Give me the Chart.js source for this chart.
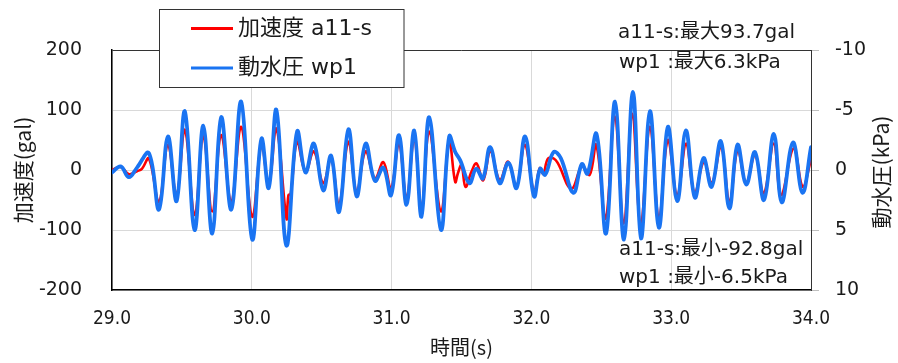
<!DOCTYPE html>
<html>
<head>
<meta charset="utf-8">
<script src="https://cdn.jsdelivr.net/npm/chart.js@4.4.1/dist/chart.umd.min.js"></script>
<style>
  body { margin: 0; background: #fff; }
  #wrap { width: 898px; height: 363px; }
</style>
</head>
<body>
<div id="wrap"><canvas id="waveChart" width="898" height="363"></canvas></div>
<script>
// 加速度 a11-s (gal) : 山・谷を読み取った値
const accelTime = [29.00, 29.062, 29.121, 29.179, 29.214, 29.264, 29.336, 29.400, 29.462, 29.521,
  29.591, 29.653, 29.717, 29.781, 29.853, 29.924, 30.003, 30.069, 30.121, 30.176,
  30.248, 30.262, 30.278, 30.324, 30.384, 30.444, 30.511, 30.567, 30.624, 30.691,
  30.750, 30.814, 30.881, 30.941, 30.996, 31.053, 31.107, 31.162, 31.214, 31.269,
  31.353, 31.412, 31.455, 31.475, 31.500, 31.529, 31.571, 31.607, 31.655, 31.707,
  31.774, 31.834, 31.893, 31.953, 32.019, 32.060, 32.085, 32.119, 32.161, 32.190,
  32.286, 32.362, 32.417, 32.464, 32.531, 32.596, 32.660, 32.721, 32.781, 32.848,
  32.912, 32.976, 33.043, 33.107, 33.167, 33.234, 33.291, 33.357, 33.417, 33.476,
  33.536, 33.600, 33.662, 33.734, 33.786, 33.876, 33.941, 34.00];
const accelGal = [0, 5, -7, -2, 2, 19, -53, 42, -42, 67,
  -75, 56, -69, 58, -53, 72, -78, 42, -25, 69,
  -81, -42, -40, 47, -3, 31, -22, 19, -58, 47,
  -36, 31, -14, 13, -31, 44, -47, 53, -64, 64,
  -69, 47, -20, -5, 8, -28, -3, 11, -17, 31,
  -17, 14, -28, 42, -36, 3, -6, 19, 19, 11,
  -31, 6, -8, 42, -81, 89, -89, 93.7, -92.8, 72,
  -81, 50, -42, 44, -39, 14, -22, 39, -53, 33,
  -22, 25, -39, 44, -42, 36, -28, 17];

// 動水圧 wp1 (kPa) : 右軸は上下反転
const pressTime = [29.00, 29.062, 29.121, 29.179, 29.264, 29.336, 29.400, 29.462, 29.521, 29.591,
  29.653, 29.717, 29.781, 29.853, 29.924, 30.003, 30.069, 30.121, 30.176, 30.248,
  30.324, 30.384, 30.444, 30.511, 30.567, 30.624, 30.691, 30.750, 30.814, 30.881,
  30.941, 30.996, 31.053, 31.107, 31.162, 31.214, 31.269, 31.353, 31.412, 31.455,
  31.491, 31.557, 31.605, 31.653, 31.705, 31.773, 31.836, 31.894, 31.955, 32.019,
  32.062, 32.098, 32.159, 32.210, 32.300, 32.361, 32.401, 32.466, 32.534, 32.598,
  32.662, 32.726, 32.784, 32.848, 32.912, 32.976, 33.043, 33.105, 33.169, 33.231,
  33.289, 33.355, 33.416, 33.474, 33.537, 33.599, 33.664, 33.734, 33.791, 33.871,
  33.939, 34.00];
const pressKPa = [0.2, -0.3, 0.6, -0.2, -1.4, 3.3, -2.8, 2.6, -4.9, 5.0,
  -3.7, 5.3, -4.4, 3.3, -5.7, 5.8, -2.6, 1.5, -5.0, 6.3,
  -3.2, 0.2, -2.2, 1.7, -1.2, 3.5, -3.4, 2.2, -2.2, 0.9,
  -0.2, 2.1, -2.9, 2.9, -3.3, 3.9, -4.4, 5.0, -2.8, -1.5,
  -0.8, 1.1, -0.1, 0.7, -1.9, 1.1, -0.6, 1.5, -2.8, 2.2,
  -0.1, 0.4, -1.5, -1.0, 1.9, -0.5, 0.3, -3.0, 5.3, -5.7,
  5.8, -6.5, 5.7, -4.9, 4.8, -3.6, 2.6, -3.3, 2.3, -1.0,
  1.4, -2.4, 3.2, -2.1, 1.2, -1.5, 2.5, -3.0, 2.7, -2.3,
  1.9, -1.9];

const legendLabels = ['加速度 a11-s', '動水圧 wp1'];
const maxNotes = ['a11-s:最大93.7gal', 'wp1 :最大6.3kPa'];
const minNotes = ['a11-s:最小-92.8gal', 'wp1 :最小-6.5kPa'];

const RED = '#ff0000';
const BLUE = '#1a74f2';
const TEXT = '#1a1a1a';
const CJK = '"Noto Sans CJK JP", sans-serif';
const MIXED = '"DejaVu Sans", "Noto Sans CJK JP", sans-serif';
const NARROW = '"Liberation Sans Narrow", "DejaVu Sans Condensed", "Liberation Sans", sans-serif';

function toPoints(xs, ys) {
  return xs.map((x, i) => ({ x: x, y: ys[i] }));
}

// 凡例・右軸タイトル・最大最小の注記
const overlayPlugin = {
  id: 'overlay',
  afterDraw(chart) {
    const c = chart.ctx;
    c.save();

    c.fillStyle = '#fff';
    c.fillRect(160, 10, 244, 77);
    c.strokeStyle = '#333';
    c.lineWidth = 1;
    c.strokeRect(159.5, 9.5, 244.5, 78);

    c.lineWidth = 3;
    c.strokeStyle = RED;
    c.beginPath(); c.moveTo(191, 28.5); c.lineTo(233, 28.5); c.stroke();
    c.strokeStyle = BLUE;
    c.beginPath(); c.moveTo(191, 68); c.lineTo(233, 68); c.stroke();

    c.fillStyle = TEXT;
    c.font = '22px ' + MIXED;
    c.textAlign = 'left';
    c.textBaseline = 'middle';
    c.fillText(legendLabels[0], 238, 29);
    c.fillText(legendLabels[1], 238, 68);

    c.font = '20px ' + MIXED;
    c.fillText(maxNotes[0], 618, 33);
    c.fillText(maxNotes[1], 619, 63);
    c.fillText(minNotes[0], 619, 250);
    c.fillText(minNotes[1], 619, 278);

    c.translate(881, 172);
    c.rotate(-Math.PI / 2);
    c.textAlign = 'center';
    c.font = '21px ' + CJK;
    c.fillText('動水圧(kPa)', 0, 0);
    c.restore();
  }
};

new Chart(document.getElementById('waveChart'), {
  type: 'line',
  data: {
    datasets: [
      {
        label: legendLabels[1],
        data: toPoints(pressTime, pressKPa),
        yAxisID: 'y1',
        borderColor: BLUE,
        borderWidth: 3.8
      },
      {
        label: legendLabels[0],
        data: toPoints(accelTime, accelGal),
        yAxisID: 'y',
        borderColor: RED,
        borderWidth: 2.6
      }
    ]
  },
  options: {
    responsive: false,
    animation: false,
    layout: { padding: { top: 50, left: 0, right: 0, bottom: 0 } },
    elements: {
      point: { radius: 0 },
      line: { tension: 0.4, borderJoinStyle: 'round', borderCapStyle: 'round', fill: false }
    },
    plugins: { legend: { display: false }, tooltip: { enabled: false } },
    scales: {
      x: {
        type: 'linear',
        min: 29,
        max: 34,
        afterFit: s => { s.height = 73; },
        border: { color: '#000', width: 1.5 },
        grid: { color: '#d9d9d9', drawTicks: false },
        ticks: {
          stepSize: 1,
          padding: 18,
          color: TEXT,
          font: { family: NARROW, size: 19 },
          callback: v => v.toFixed(1)
        },
        title: {
          display: true,
          text: '時間(s)',
          color: TEXT,
          font: { family: CJK, size: 20 },
          padding: { top: 0, bottom: 4 }
        }
      },
      y: {
        position: 'left',
        min: -200,
        max: 200,
        afterFit: s => { s.width = 112; },
        border: { color: '#000', width: 1.5 },
        grid: {
          drawTicks: false,
          color: c => (c.tick && c.tick.value === 200) ? '#333' : '#d9d9d9'
        },
        ticks: {
          stepSize: 100,
          padding: 30,
          color: TEXT,
          font: { family: MIXED, size: 19 }
        },
        title: {
          display: true,
          text: '加速度(gal)',
          color: TEXT,
          font: { family: CJK, size: 21 },
          padding: { top: 10, bottom: 0 }
        }
      },
      y1: {
        position: 'right',
        min: -10,
        max: 10,
        reverse: true,
        afterFit: s => { s.width = 87; },
        border: { color: '#333', width: 1 },
        grid: { drawOnChartArea: false, drawTicks: true, tickLength: 8, color: '#bfbfbf' },
        ticks: {
          stepSize: 5,
          padding: 16,
          color: TEXT,
          font: { family: MIXED, size: 19 }
        }
      }
    }
  },
  plugins: [overlayPlugin]
});
</script>
</body>
</html>
